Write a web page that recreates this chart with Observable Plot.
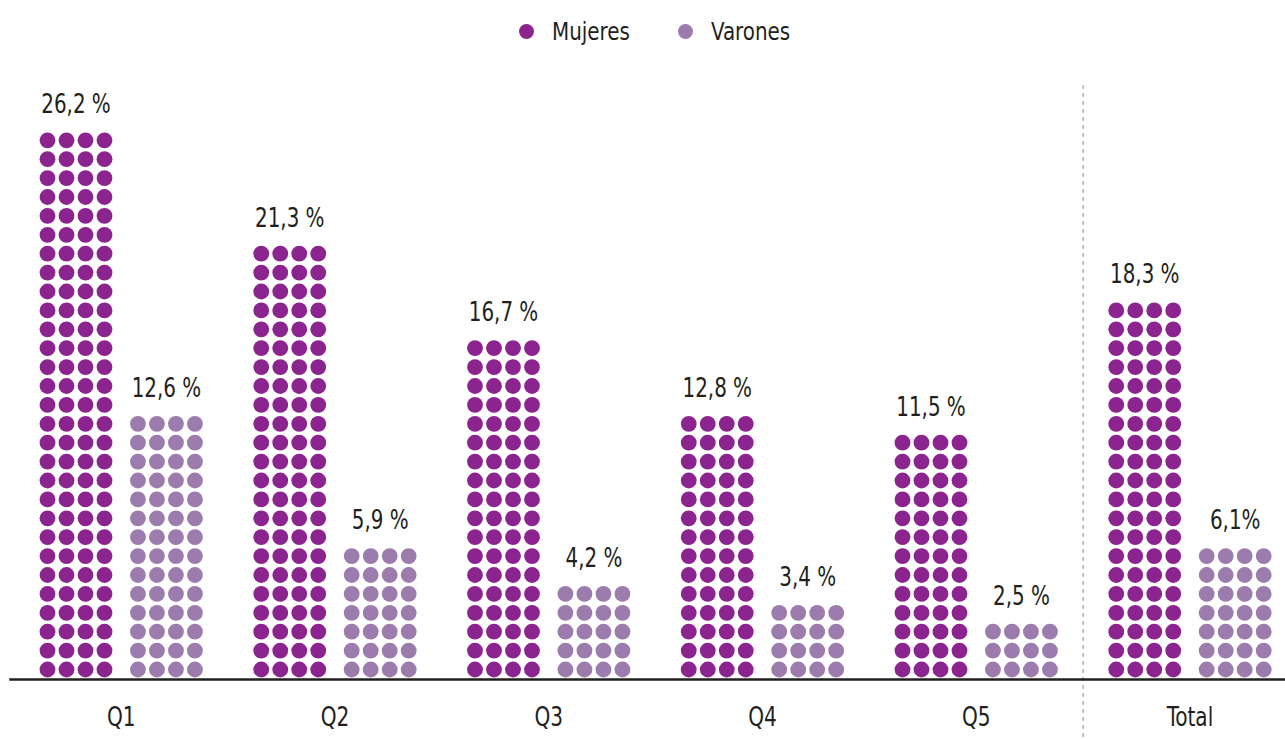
<!DOCTYPE html>
<html>
<head>
<meta charset="utf-8">
<script src="https://cdn.jsdelivr.net/npm/d3@7"></script>
<script src="https://cdn.jsdelivr.net/npm/@observablehq/plot@0.6"></script>
<style>
  html, body { margin: 0; padding: 0; background: #fff; }
  body { width: 1285px; height: 739px; overflow: hidden; font-family: "Liberation Sans Narrow", "DejaVu Sans Condensed", "DejaVu Sans", sans-serif; color: #231f20; }
  #legend { position: relative; height: 62px; }
  .item { position: absolute; top: 0; height: 62px; display: flex; align-items: center; font-size: 25px; }
  .sw { width: 15px; height: 15px; border-radius: 50%; margin-right: 18px; flex: none; }
  .lab { display: inline-block; transform: scaleX(0.885); transform-origin: left center; }
</style>
</head>
<body>
<div id="legend"></div>
<div id="chart"></div>
<script>
// ---- data ----
const categories = ["Q1", "Q2", "Q3", "Q4", "Q5", "Total"];
const series = ["Mujeres", "Varones"];
const mujeres = [26.2, 21.3, 16.7, 12.8, 11.5, 18.3];
const varones = [12.6, 5.9, 4.2, 3.4, 2.5, 6.1];
// rows of dots (4 dots per row) as drawn in the reference
const mujeresRows = [29, 23, 18, 14, 13, 20];
const varonesRows = [14, 7, 5, 4, 3, 7];
// value labels as printed
const mujeresLabels = ["26,2 %", "21,3 %", "16,7 %", "12,8 %", "11,5 %", "18,3 %"];
const varonesLabels = ["12,6 %", "5,9 %", "4,2 %", "3,4 %", "2,5 %", "6,1%"];
const colors = ["#8c2490", "#9c7bad"];

// ---- layout (in dot-column units) ----
const cols = 4;
const groupStep = 11.25;
const seriesOffset = 4.76;

const dots = [];
const labels = [];
categories.forEach((cat, i) => {
  [[mujeresRows[i], mujeres[i], mujeresLabels[i]], [varonesRows[i], varones[i], varonesLabels[i]]].forEach(([n, v, lab], s) => {
    const x0 = i * groupStep + s * seriesOffset;
    for (let r = 0; r < n; r++) {
      for (let c = 0; c < cols; c++) {
        dots.push({cat, serie: series[s], x: x0 + c, y: r, value: v});
      }
    }
    labels.push({cat, serie: series[s], x: x0 + (cols - 1) / 2, y: n + 1, text: lab});
  });
});
const catPos = categories.map((cat, i) => ({cat, x: i * groupStep + (seriesOffset + cols - 1) / 2}));
// separator between Q5 and Total
const sepX = [((4 * groupStep + seriesOffset + cols - 1) + 5 * groupStep) / 2];

// legend
const legend = document.getElementById("legend");
const lefts = [519, 678];
series.forEach((s, k) => {
  const it = document.createElement("div");
  it.className = "item";
  it.style.left = lefts[k] + "px";
  it.innerHTML = `<span class="sw" style="background:${colors[k]}"></span><span class="lab">${s}</span>`;
  legend.appendChild(it);
});

const font = '"Liberation Sans Narrow", "DejaVu Sans Condensed", "DejaVu Sans", sans-serif';
const chart = Plot.plot({
  width: 1285,
  height: 677,
  marginLeft: 10,
  marginRight: 0,
  marginTop: 23,
  marginBottom: 60,
  style: {fontFamily: font, color: "#231f20", background: "#fff"},
  x: {domain: [0, 64], range: [47, 47 + 64 * 19], axis: null},
  y: {domain: [0, 1], range: [607, 607 - 18.9], axis: null},
  color: {domain: series, range: colors},
  marks: [
    Plot.ruleX(sepX, {stroke: "#8a8a8a", strokeWidth: 1, strokeDasharray: "4,4", insetBottom: -60}),
    Plot.dot(dots, {x: "x", y: "y", r: 7.9, fill: "serie", stroke: null}),
    Plot.frame({anchor: "bottom", stroke: "#231f20", strokeWidth: 2.5}),
    Plot.text(labels, {x: "x", y: "y", text: "text", fontSize: 27, fill: "#231f20", lineAnchor: "middle", dy: 2, className: "vlab"}),
    Plot.text(catPos, {x: "x", frameAnchor: "bottom", dy: 38, text: "cat", fontSize: 26, fill: "#231f20", lineAnchor: "middle", className: "clab"})
  ]
});
document.getElementById("chart").appendChild(chart);

// condense text horizontally to mimic the narrow typeface of the reference
function condense(sel, s) {
  chart.querySelectorAll(sel + " text").forEach((el) => {
    const t = el.getAttribute("transform") || "";
    const x = +(el.getAttribute("x") || 0);
    el.setAttribute("transform", `${t} translate(${x} 0) scale(${s} 1) translate(${-x} 0)`);
  });
}
condense(".vlab", 0.82);
condense(".clab", 0.86);
</script>
</body>
</html>
